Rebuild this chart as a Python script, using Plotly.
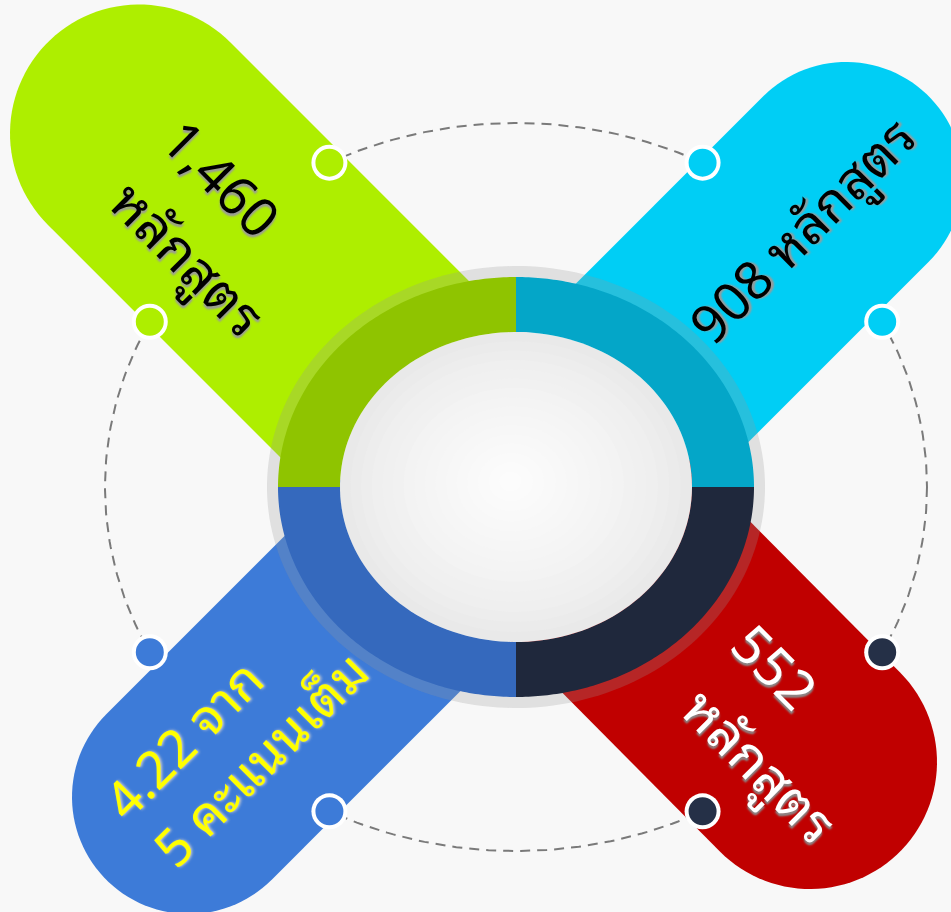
import numpy as np
import plotly.graph_objects as go

# ---------------- data (values / labels) ----------------
segments = ["courses_a", "courses_b", "courses_c", "score"]
line1_labels = ["1,460", "908 หลักสูตร", "552", "4.22 จาก"]
line2_labels = ["หลักสูตร", "", "หลักสูตร", "5 คะแนนเต็ม"]

# ---------------- styles ----------------
pill_colors = ["#aeee00", "#00cef5", "#c00000", "#3d7bd8"]
ring_colors = ["#8fc400", "#04a6c8", "#1f283c", "#3569bd"]
dot_colors = ["#aeee00", "#00cef5", "#253047", "#3d7bd8"]
text_colors = ["#000000", "#000000", "#ffffff", "#ffff00"]
text_shadows = ["2px 2px 2px #9a9a9a", "2px 2px 2px #9a9a9a",
                "2px 2px 2px #8a8a8a", "1px 1px 3px #d0d0d0"]

# ---------------- geometry (pixel space) ----------------
W, H = 951, 912
CX, CY = 516, 487
ring_outer = (238, 210)
ring_inner = (176, 155)
halo = (249, 221)
dash_ell = (411, 364)
ring_theta = [(180, 270), (270, 360), (0, 90), (90, 180)]
pill_cap_x = [139, 846, 810, 189]
pill_cap_y = [133.5, 179, 762, 797]
pill_inner_x = [505, 527, 526.5, 507.5]
pill_inner_y = [499.5, 498, 476.5, 478.5]
pill_half_w = [129, 117, 127, 117]
dot_angles = [[243, 207], [297, 333], [27, 63], [153, 117]]

# text placement: (x, y, angle) per line
line1_pos = [(225, 175, 45), (799, 227, -45), (778, 663, 45), (180, 736, -45)]
line2_pos = [(191, 255, 45), None, (763, 762, 45), (257, 756, -45)]
font_sizes = [54, 53, 54, 52]
FONT = "Noto Sans Thai Looped, Noto Sans Thai, Tahoma, Leelawadee UI, DejaVu Sans, sans-serif"


def ellipse_pts(cx, cy, a, b, t0, t1, n=120):
    t = np.radians(np.linspace(t0, t1, n))
    return cx + a * np.cos(t), cy + b * np.sin(t)


def path_from(xs, ys):
    s = "M %.2f %.2f " % (xs[0], ys[0])
    s += " ".join("L %.2f %.2f" % (x, y) for x, y in zip(xs[1:], ys[1:]))
    return s + " Z"


shapes = []

# pills
for i in range(4):
    C = np.array([pill_cap_x[i], pill_cap_y[i]])
    P = np.array([pill_inner_x[i], pill_inner_y[i]])
    u = (C - P) / np.linalg.norm(C - P)
    nrm = np.array([-u[1], u[0]])
    w = pill_half_w[i]
    base = np.degrees(np.arctan2(nrm[1], nrm[0]))
    arc = np.radians(np.linspace(base, base - 180, 60))
    xs = [P[0] + w * nrm[0]] + list(C[0] + w * np.cos(arc)) + [P[0] - w * nrm[0]]
    ys = [P[1] + w * nrm[1]] + list(C[1] + w * np.sin(arc)) + [P[1] - w * nrm[1]]
    shapes.append(dict(type="path", path=path_from(xs, ys), fillcolor=pill_colors[i],
                       line=dict(width=0), layer="above"))

# halo
hx, hy = ellipse_pts(CX, CY, halo[0], halo[1], 0, 360, 200)
shapes.append(dict(type="path", path=path_from(hx, hy), fillcolor="rgba(150,150,150,0.25)",
                   line=dict(width=0), layer="above"))

# ring quadrants
for i in range(4):
    t0, t1 = ring_theta[i]
    ox, oy = ellipse_pts(CX, CY, ring_outer[0], ring_outer[1], t0, t1)
    ix, iy = ellipse_pts(CX, CY, ring_inner[0], ring_inner[1], t1, t0)
    shapes.append(dict(type="path", path=path_from(np.r_[ox, ix], np.r_[oy, iy]),
                       fillcolor=ring_colors[i], line=dict(width=0), layer="above"))

# inner gradient disc
nl = 16
for k in range(nl):
    s = 1 - k / nl
    g = int(233 + (252 - 233) * (k / (nl - 1)) ** 0.7)
    ex, ey = ellipse_pts(CX - 6 * (1 - s), CY - 6 * (1 - s), ring_inner[0] * s, ring_inner[1] * s, 0, 360, 160)
    shapes.append(dict(type="path", path=path_from(ex, ey), fillcolor="rgb(%d,%d,%d)" % (g, g, g),
                       line=dict(width=0), layer="above"))

# dots on the dashed orbit
for i in range(4):
    for a in dot_angles[i]:
        t = np.radians(a)
        px, py = CX + dash_ell[0] * np.cos(t), CY + dash_ell[1] * np.sin(t)
        shapes.append(dict(type="circle", x0=px - 18, x1=px + 18, y0=py - 18, y1=py + 18,
                           fillcolor="white", line=dict(width=0), layer="above"))
        shapes.append(dict(type="circle", x0=px - 14, x1=px + 14, y0=py - 14, y1=py + 14,
                           fillcolor=dot_colors[i], line=dict(width=0), layer="above"))

fig = go.Figure()

# dashed orbit (under the pills)
dx, dy = ellipse_pts(CX, CY, dash_ell[0], dash_ell[1], 0, 360, 400)
fig.add_trace(go.Scatter(x=dx, y=dy, mode="lines",
                         line=dict(color="#7a7a7a", width=2, dash="10px,7px"),
                         hoverinfo="skip", showlegend=False))

annotations = []
for i in range(4):
    for lab, pos in ((line1_labels[i], line1_pos[i]), (line2_labels[i], line2_pos[i])):
        if not lab or pos is None:
            continue
        annotations.append(dict(x=pos[0], y=pos[1], xref="x", yref="y", text=lab,
                                showarrow=False, textangle=pos[2],
                                font=dict(family=FONT, size=font_sizes[i], color=text_colors[i],
                                          shadow=text_shadows[i]),
                                xanchor="center", yanchor="middle"))

fig.update_layout(
    width=W, height=H, margin=dict(l=0, r=0, t=0, b=0),
    paper_bgcolor="#f8f8f8", plot_bgcolor="#f8f8f8",
    xaxis=dict(range=[0, W], visible=False, fixedrange=True),
    yaxis=dict(range=[H, 0], visible=False, fixedrange=True),
    shapes=shapes,
    annotations=annotations,
    showlegend=False,
)

fig.write_html("out.html", config={"displayModeBar": False, "staticPlot": True},
               post_script="document.body.style.margin='0';document.body.style.overflow='hidden';")
